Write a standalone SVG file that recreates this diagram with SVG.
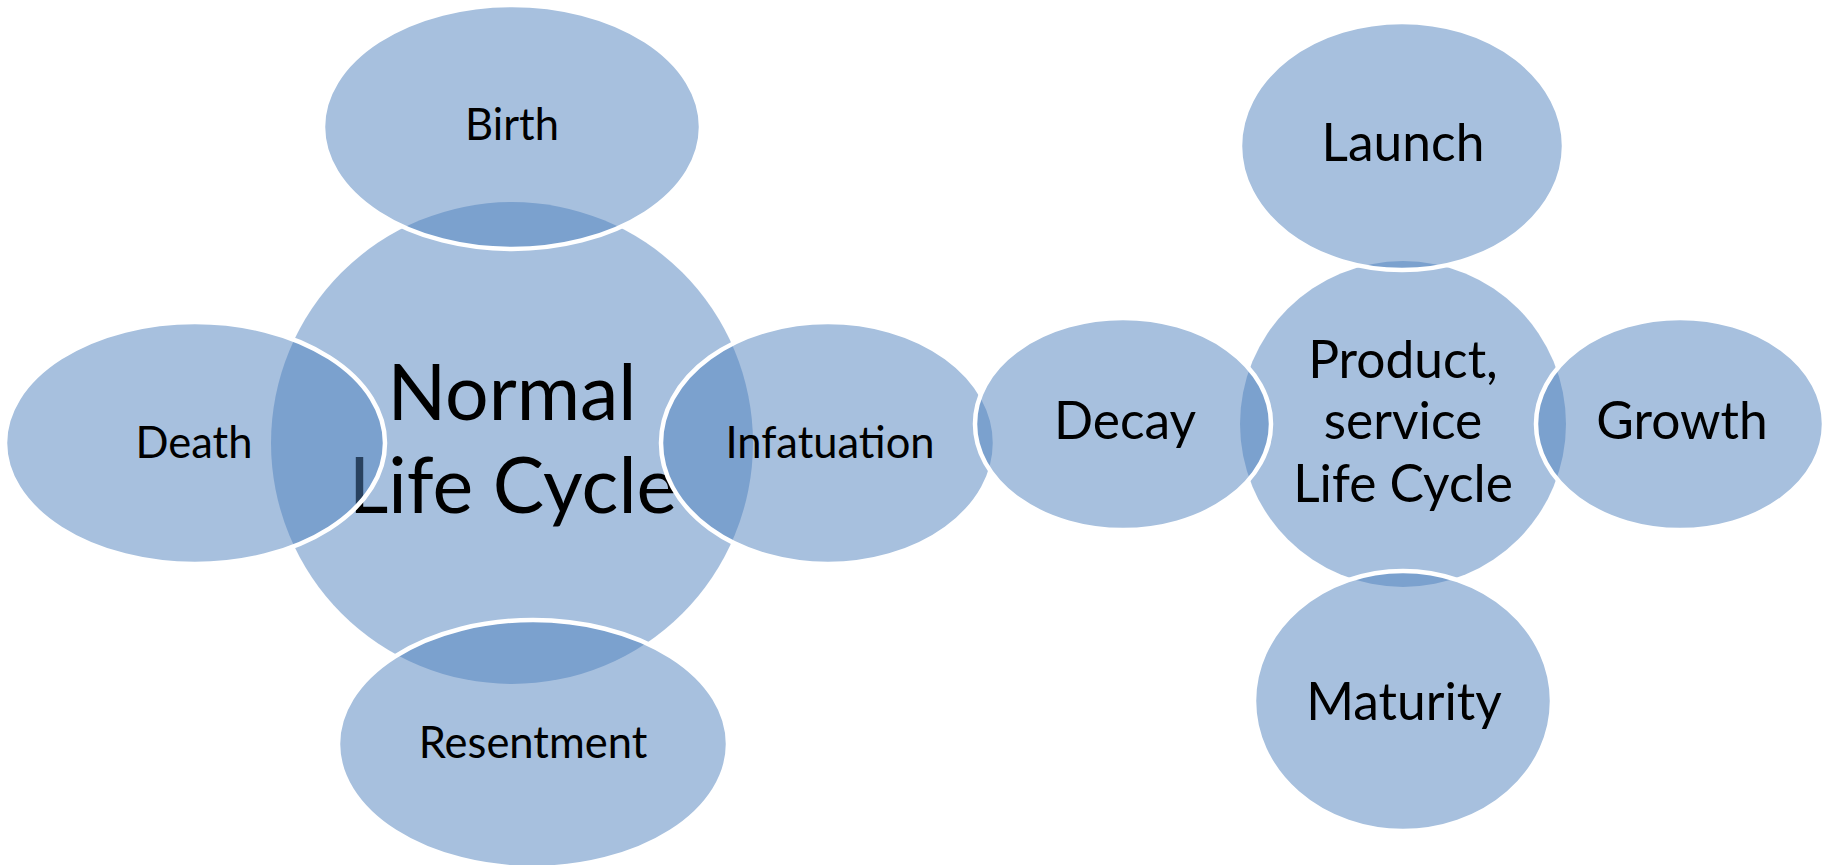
<svg xmlns="http://www.w3.org/2000/svg" width="1829" height="865" viewBox="0 0 1829 865">
<style>
.hub{fill:#4F81BD;fill-opacity:0.5;stroke:none}
.sat{fill:#4F81BD;fill-opacity:0.5;stroke:#FFFFFF;stroke-width:4.5}
text{font-family:Lato,"Open Sans",sans-serif;fill:#000000;text-anchor:middle}
.big{font-size:77px}
.sm{font-size:43.5px}
.md{font-size:51.5px}
</style>
<rect width="1829" height="865" fill="#FFFFFF"/>
<g id="connectors"></g>
<g id="normal-life-cycle">
<circle class="hub" cx="512" cy="443" r="241"/>
<text class="big" x="512" y="420">Normal</text>
<text class="big" x="513" y="513">Life Cycle</text>
</g>
<g id="birth">
<ellipse class="sat" cx="512" cy="127" rx="189" ry="122"/>
<text class="sm" x="512" y="140">Birth</text>
</g>
<g id="infatuation">
<ellipse class="sat" cx="828" cy="443" rx="167" ry="121"/>
<text class="sm" x="830" y="458">Infatuation</text>
</g>
<g id="resentment">
<ellipse class="sat" cx="533" cy="744" rx="195" ry="124"/>
<text class="sm" x="533" y="758">Resentment</text>
</g>
<g id="death">
<ellipse class="sat" cx="195" cy="443" rx="190" ry="121"/>
<text class="sm" x="194" y="458">Death</text>
</g>
<g id="product-life-cycle">
<circle class="hub" cx="1403" cy="424" r="163"/>
<text class="md" x="1403" y="378">Product,</text>
<text class="md" x="1403" y="439">service</text>
<text class="md" x="1403" y="502">Life Cycle</text>
</g>
<g id="launch">
<ellipse class="sat" cx="1402" cy="146" rx="162" ry="124"/>
<text class="md" x="1403" y="161">Launch</text>
</g>
<g id="growth">
<ellipse class="sat" cx="1680" cy="424" rx="144" ry="106"/>
<text class="md" x="1682" y="439">Growth</text>
</g>
<g id="maturity">
<ellipse class="sat" cx="1403" cy="701" rx="149" ry="130"/>
<text class="md" x="1404" y="720">Maturity</text>
</g>
<g id="decay">
<ellipse class="sat" cx="1123" cy="424" rx="148" ry="106"/>
<text class="md" x="1125" y="439">Decay</text>
</g>
</svg>
